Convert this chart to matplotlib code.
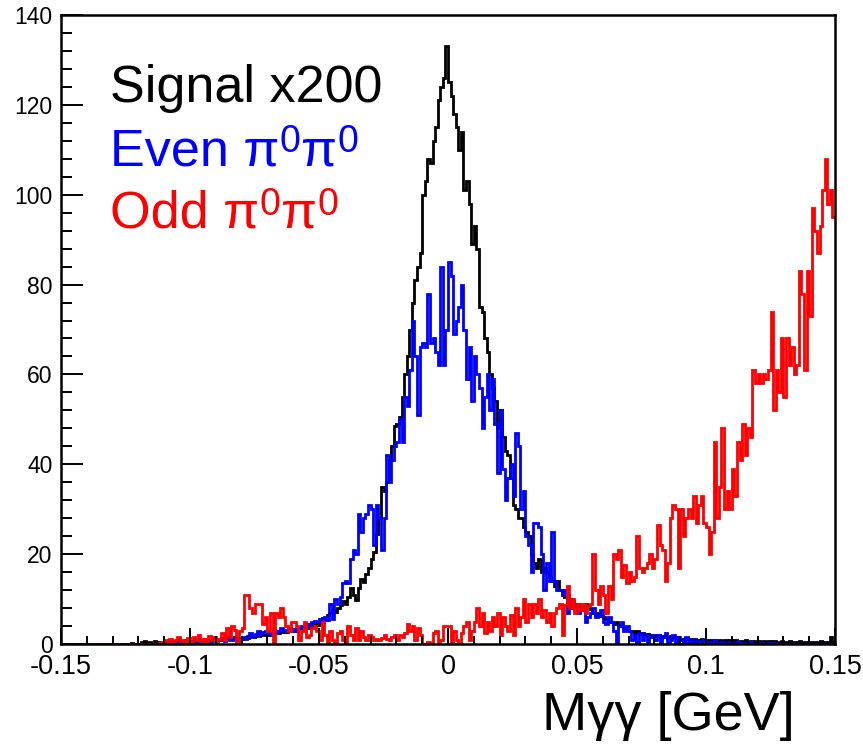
import numpy as np
import matplotlib
matplotlib.use("Agg")
import matplotlib.pyplot as plt
from matplotlib.ticker import MultipleLocator

plt.rcParams['font.family'] = ['Liberation Sans', 'DejaVu Sans']

# histogram range and binning (300 bins of 1 MeV)
x_min, x_max, n_bins = -0.15, 0.15, 300

signal = [
    0, 0, 0, 0, 0, 0, 0, 0, 0, 0,
    0, 0, 0, 0, 0, 0, 0, 0, 0, 0,
    0, 0, 0, 0, 0, 0, 0, 0.3, 0, 0,
    0, 0.4, 0.6, 0.3, 0.5, 0, 0.6, 0.4, 0, 0.5,
    0.3, 0.5, 0, 0.6, 0.4, 0.8, 0.5, 0.3, 0.9, 0.6,
    0.5, 0.7, 1.0, 0.6, 0.8, 1.2, 0.7, 0.9, 1.0, 0.8,
    1.0, 0.8, 1.3, 1.0, 1.5, 1.1, 1.2, 1.6, 1.4, 1.3,
    1.2, 1.5, 1.3, 1.8, 1.6, 2.0, 1.7, 2.2, 1.9, 2.3,
    2.0, 2.5, 2.2, 2.8, 2.4, 2.6, 3.0, 2.7, 3.2, 2.9,
    3.4, 3.0, 3.6, 3.3, 4.0, 3.6, 4.5, 4.1, 4.8, 4.3,
    5.0, 5.8, 5.4, 6.5, 7.0, 7.6, 7.2, 8.0, 8.6, 9.5,
    9.0, 10.5, 12.5, 11.0, 9.8, 12.5, 14.5, 13.8, 15.5, 17.0,
    19.0, 20.5, 24.5, 28.0, 35.0, 34.0, 36.0, 41.0, 44.0, 48.5,
    49, 50.5, 55, 60, 64, 70, 76, 81, 84, 87,
    100, 103, 108, 107, 112, 115, 121, 124, 126, 133,
    125, 122, 118, 115, 110, 114, 101, 103, 98, 89,
    93, 88, 75, 74, 68, 65, 60, 57, 54, 48,
    52, 46, 43, 42, 37, 31, 30, 28, 28, 26,
    25, 24, 20, 18, 17, 19, 16, 17, 16, 15,
    14, 13, 14, 12, 11, 10.5, 11, 10, 9.5, 9,
    9, 8.5, 8, 8.8, 8.2, 7.8, 7, 6.5, 6.8, 6.2,
    6, 5.5, 5, 4.8, 4.5, 4.8, 4.2, 4, 3.5, 3.2,
    3, 2.8, 2.5, 2.8, 2.2, 2.5, 2, 2.3, 1.8, 2,
    1.8, 2, 1.5, 1.8, 1.6, 1.4, 1.7, 1.3, 1.5, 1.2,
    1.2, 1.0, 1.4, 1.1, 0.9, 1.2, 1.0, 0.8, 1.1, 0.9,
    0.9, 0.7, 1, 0.8, 0.6, 0.9, 0.7, 0.8, 0.6, 0.9,
    0.6, 0.8, 0.5, 0.7, 0.6, 0.8, 0.5, 0.6, 0.7, 0.5,
    0.6, 0.5, 0.7, 0.4, 0.6, 0.5, 0.6, 0.4, 0.5, 0.6,
    0.5, 0.4, 0.6, 0.5, 0.4, 0.5, 0.6, 0.4, 0.5, 0.4,
    0.5, 0.4, 0.5, 0.3, 0.6, 0.4, 0.5, 0.4, 1.5, 0.5,
]

even = [
    0, 0, 0, 0, 0, 0, 0, 0, 0, 0,
    0, 0, 0, 0, 0, 0, 0, 0, 0, 0,
    0, 0, 0, 0, 0, 0, 0, 0, 0, 0,
    0, 0, 0, 0, 0, 0, 0, 0, 0.3, 0,
    0.3, 0, 0.4, 0, 0.5, 0.3, 0, 0.4, 0.5, 0.3,
    0.4, 0.6, 0.3, 0.5, 0.7, 0.4, 0.6, 0.5, 0.8, 0.6,
    0.5, 0.8, 1.0, 0.6, 1.2, 0.8, 1.0, 1.4, 0.9, 1.2,
    1.5, 1.2, 1.8, 2.5, 1.6, 2.2, 2.8, 2.0, 2.6, 3.0,
    2.4, 2.0, 3.2, 2.6, 3.0, 3.5, 2.8, 3.2, 3.6, 3.0,
    3.4, 3.0, 3.6, 4.0, 3.2, 4.5, 4.0, 5.0, 5.2, 4.8,
    5.5, 5.0, 6.0, 5.3, 9.0, 5.5, 10.0, 9.0, 10.5, 13.5,
    14, 13.5, 19, 21, 20, 29, 25, 28, 29, 31,
    30, 22, 31, 28, 21, 28, 42, 36, 41, 44,
    45, 50, 45, 55, 53, 61, 72, 64, 51, 66,
    67, 66, 78, 67, 68, 65, 62, 84, 62, 70,
    85, 82, 69, 72, 75, 80, 70, 59, 66, 54,
    64, 60, 57, 48, 55, 60, 52, 59, 49, 38,
    52, 39, 32, 37, 40, 33, 47, 44, 30, 34,
    24, 22, 16, 27, 27, 26, 20, 12, 18, 14,
    25, 14, 12, 12, 11, 12, 7, 10, 8, 9,
    7, 8, 7.5, 5, 6, 7, 8, 6, 6.5, 7.5,
    5, 4.5, 6, 5, 3, 0.3, 4, 5, 3, 4,
    3, 1, 2, 0.5, 2.5, 1, 2, 0.5, 1.5, 2,
    1, 2, 0.5, 1.5, 2.5, 0.5, 1, 2, 0.5, 1.5,
    1, 0.5, 1.5, 0.3, 1, 0.5, 0.8, 0, 0.5, 1,
    0.3, 0.5, 0, 0.8, 0.3, 0, 0.5, 0.3, 0, 0.4,
    0, 0.3, 0.5, 0, 0.3, 0, 0, 0.4, 0, 0,
    0, 0.3, 0, 0, 0.2, 0, 0.3, 0, 0, 0,
    0, 0, 0, 0, 0, 0, 0, 0, 0, 0,
    0, 0, 0, 0, 0, 0, 0, 0, 0, 0,
]

odd = [
    0, 0, 0, 0, 0, 0, 0, 0, 0, 0,
    0, 0, 0, 0, 0, 0, 0, 0, 0, 0,
    0, 0, 0, 0, 0, 0, 0, 0, 0, 0,
    0, 0, 0, 0, 0, 0, 0, 0, 0.3, 0.5,
    0.8, 0.3, 1.2, 0.5, 1.0, 1.5, 0.6, 1.0, 0.4, 1.3,
    0.5, 1.5, 1.0, 2.0, 0.6, 1.2, 0.5, 1.8, 0.8, 1.5,
    0.5, 1.2, 2.5, 1.0, 3.5, 1.5, 4.0, 3.2, 0.5, 3.0,
    3.5, 11, 11, 8, 7, 9, 9, 9, 4.5, 6,
    3, 7, 0.5, 7, 6, 8, 6, 4, 3, 5,
    5, 4, 1, 3, 5, 1.5, 2, 3.5, 4, 3,
    1, 5, 2, 0.5, 3, 1, 0.5, 2.5, 3, 1,
    0.5, 4, 2, 1, 3.5, 1, 3, 1.5, 1, 2,
    1.5, 1, 1.2, 1, 1.3, 2, 1.2, 1, 1.5, 2,
    1, 2, 1.5, 2.5, 4.5, 3, 4, 1, 3.5, 2,
    0, 0, 0.5, 0, 2.5, 3, 0, 1, 4, 4,
    4, 0.5, 3, 1, 0, 2.5, 4, 5, 1, 3,
    5, 8, 4, 7, 2.5, 5, 3, 6, 4, 7,
    2, 6, 4, 3, 6.5, 2, 8, 4, 6, 10,
    5, 9, 6, 9, 7, 10, 6, 7.5, 5, 7,
    4, 7, 8, 9, 2, 8.7, 13, 8, 10, 7,
    9, 7.5, 9, 7, 8.5, 9, 20, 12, 9, 13,
    11, 7, 13, 10, 20, 19, 21, 15, 17.5, 13.5,
    16, 14, 15, 24, 17, 16, 17, 18, 20, 17,
    19, 26.5, 22, 21, 14, 18, 28, 31, 30, 17,
    30, 24, 28, 30, 28, 33, 27, 31, 33, 27,
    26, 20, 25, 45, 28, 35, 48, 30, 34, 30,
    39, 33, 45, 41, 49, 42, 48, 46, 61, 58,
    60, 58, 60, 59, 61, 74, 52, 61, 56, 68,
    55, 68, 62, 66, 60, 62, 83, 78, 61, 83,
    73, 97, 92, 87, 93, 101, 108, 98, 101, 95,
]

x_ticks = [-0.15, -0.1, -0.05, 0, 0.05, 0.1, 0.15]
x_tick_labels = ['-0.15', '-0.1', '-0.05', '0', '0.05', '0.1', '0.15']
y_ticks = [0, 20, 40, 60, 80, 100, 120, 140]
y_tick_labels = ['0', '20', '40', '60', '80', '100', '120', '140']

# legend entries as (main text, superscript) pieces
legend_parts = [
    [('Signal x200', False)],
    [('Even π', False), ('0', True), ('π', False), ('0', True)],
    [('Odd π', False), ('0', True), ('π', False), ('0', True)],
]
colors = ['#000000', '#0000ff', '#ff0000']

edges = np.linspace(x_min, x_max, n_bins + 1)

W, H = 863, 744
fig = plt.figure(figsize=(W / 100, H / 100), dpi=100)
ax = fig.add_axes([61 / W, 100 / H, 774 / W, 629 / H])

for vals, c in zip([signal, even, odd], colors):
    ax.stairs(vals, edges, color=c, lw=2.0, baseline=None)

ax.set_xlim(x_min, x_max)
ax.set_ylim(0, 140)
ax.set_xticks(x_ticks)
ax.set_xticklabels(x_tick_labels)
ax.set_yticks(y_ticks)
ax.set_yticklabels(y_tick_labels)
ax.xaxis.set_minor_locator(MultipleLocator(0.01))
ax.yaxis.set_minor_locator(MultipleLocator(4))
ax.tick_params(axis='x', which='major', direction='in', length=11.5, width=1.4,
               labelsize=19.5, pad=7, top=False)
ax.tick_params(axis='x', which='minor', direction='in', length=5.5, width=1.4, top=False)
ax.tick_params(axis='y', which='major', direction='in', length=15.5, width=1.4,
               labelsize=16.5, pad=6, right=False)
ax.tick_params(axis='y', which='minor', direction='in', length=8, width=1.4, right=False)
for s in ax.spines.values():
    s.set_linewidth(1.8)
    s.set_zorder(5)

renderer = fig.canvas.get_renderer()
leg_baselines = [102, 165, 228]
main_size, sup_size, sup_raise = 37.5, 27, 13
for parts, c, yb in zip(legend_parts, colors, leg_baselines):
    x_px = 110.0
    for txt, is_sup in parts:
        size = sup_size if is_sup else main_size
        y_px = yb - (sup_raise if is_sup else 0)
        t = fig.text(x_px / W, 1 - y_px / H, txt, color=c, fontsize=size,
                     ha='left', va='baseline')
        bb = t.get_window_extent(renderer)
        x_px += bb.width + (1 if is_sup else 0)

fig.text(795 / W, 1 - 730 / H, 'Mγγ [GeV]', fontsize=39, ha='right', va='baseline')

fig.savefig('out.png', dpi=100)
